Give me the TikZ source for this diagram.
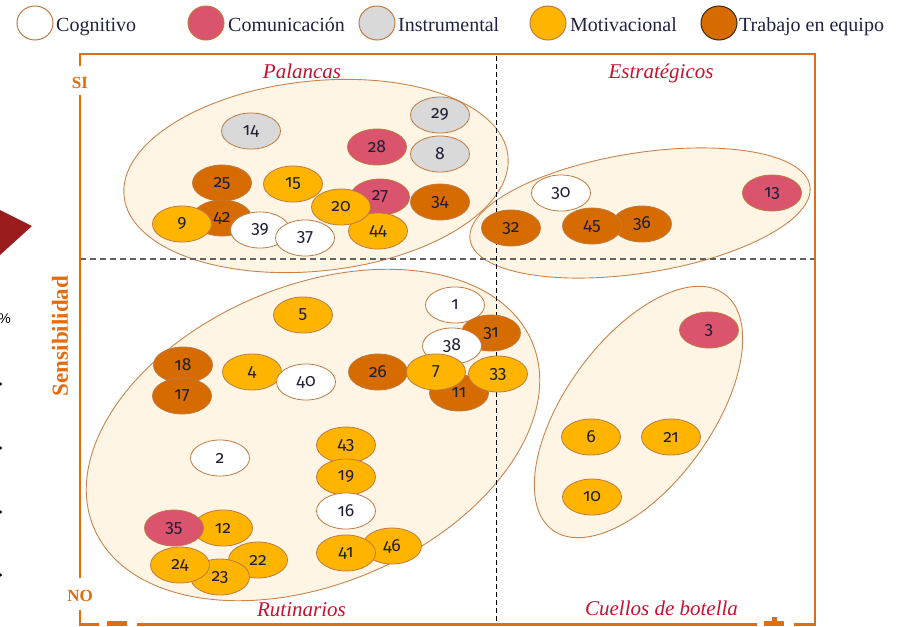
\documentclass[tikz,border=0pt]{standalone}
\usepackage{fontspec}
\setmainfont{Liberation Serif}
\newfontfamily\numfont[Numbers=OldStyle]{Fira Sans}
\newfontfamily\pctfont{Liberation Sans}
\usetikzlibrary{shapes.geometric}
\definecolor{framecol}{HTML}{E46C0A}
\definecolor{grpfill}{HTML}{FEF5E5}
\definecolor{grpline}{HTML}{C8844C}
\definecolor{itemline}{HTML}{BF7A40}
\definecolor{comcol}{HTML}{D9546C}
\definecolor{inscol}{HTML}{D9D9D9}
\definecolor{motcol}{HTML}{FFB400}
\definecolor{tracol}{HTML}{D66B00}
\definecolor{numtext}{HTML}{1E1E36}
\definecolor{quadred}{HTML}{C8102E}
\definecolor{trired}{HTML}{9B1C1C}
\definecolor{legtext}{HTML}{1F2340}
\tikzset{
  grp/.style={draw=grpline, fill=grpfill, line width=0.9pt},
  item/.style={ellipse, draw=itemline, line width=0.8pt, minimum width=59pt,
    minimum height=36pt, inner sep=0pt, text=numtext,
    font=\numfont\fontsize{17.5}{17.5}\selectfont},
  cog/.style={item, fill=white},
  com/.style={item, fill=comcol},
  ins/.style={item, fill=inscol},
  mot/.style={item, fill=motcol},
  tra/.style={item, fill=tracol},
  lgc/.style={ellipse, draw=itemline, line width=1pt, minimum width=36pt,
    minimum height=34pt, inner sep=0pt},
  lgt/.style={anchor=base west, inner sep=0pt, text=legtext,
    font=\fontsize{20}{20}\selectfont},
  quad/.style={anchor=base, inner sep=0pt, text=quadred,
    font=\itshape\fontsize{21}{21}\selectfont},
  axlab/.style={anchor=base, inner sep=0pt, text=framecol,
    font=\bfseries\fontsize{17}{17}\selectfont},
  frame/.style={draw=framecol, line width=2.5pt},
  hdash/.style={draw=black!62, line width=1.4pt, dash pattern=on 6pt off 4pt},
  vdash/.style={draw=black, line width=1pt, dash pattern=on 5pt off 3pt},
}
\begin{document}
\begin{tikzpicture}[x=1pt,y=-1pt]
\useasboundingbox (0,0) rectangle (903,627);

% cut-off remnants at the left edge
\fill[trired] (0,210) -- (32,226) -- (0,255) -- cycle;
\node[anchor=east, inner sep=0pt, font=\pctfont\fontsize{14}{14}\selectfont] (pct) at (11,319) {\%};
\foreach \yy in {384,448,512,575} \fill (0.5,\yy) circle (1.6);

% legend
\node[lgc, fill=white] (lc1) at (35,23) {};
\node[lgt] (lt1) at (56,31.5) {Cognitivo};
\node[lgc, fill=comcol] (lc2) at (206,23) {};
\node[lgt] (lt2) at (228,31.5) {Comunicación};
\node[lgc, fill=inscol] (lc3) at (377,23) {};
\node[lgt] (lt3) at (398,31.5) {Instrumental};
\node[lgc, fill=motcol] (lc4) at (548,23) {};
\node[lgt] (lt4) at (570,31.5) {Motivacional};
\node[lgc, fill=tracol, draw=black!70!brown] (lc5) at (719,23) {};
\node[lgt] (lt5) at (739,31.5) {Trabajo en equipo};

% group ellipses
\draw[grp, rotate around={6:(316,176)}] (316,176) ellipse [x radius=193, y radius=95];
\draw[grp, rotate around={9:(640,213)}] (640,213) ellipse [x radius=172, y radius=60];
\draw[grp, rotate around={23:(313,435)}] (313,435) ellipse [x radius=238, y radius=149];
\draw[grp, rotate around={54:(638.5,412)}] (638.5,412) ellipse [x radius=146, y radius=73];

% quadrant dividers
\draw[hdash] (80,259) -- (815,259);
\draw[vdash] (496,56) -- (496,622);

% frame
\draw[frame] (80,66) -- (80,54) -- (815,54) -- (815,624.5) -- (794,624.5);
\draw[frame] (757,624.5) -- (137,624.5);
\draw[frame] (99,624.5) -- (80,624.5) -- (80,610);
\draw[frame] (80,578) -- (80,95);
\fill[framecol] (107,620.5) rectangle (127,625.5);
\fill[framecol] (764,621) rectangle (784,625.5);
\fill[framecol] (771.5,617) rectangle (776.5,625.5);

% axis labels
\node[axlab] (si) at (80,88) {SI};
\node[axlab] (no) at (80,601) {NO};
\node[inner sep=0pt, text=framecol, rotate=90, font=\bfseries\fontsize{23}{23}\selectfont] (sens) at (60,336) {Sensibilidad};

% quadrant titles
\node[quad] (qpal) at (302,78) {Palancas};
\node[quad] (qest) at (661,78) {Estratégicos};
\node[quad] (qrut) at (301.5,616) {Rutinarios};
\node[quad] (qcue) at (661.5,615) {Cuellos de botella};

% Palancas
\node[ins] (n14) at (251,131) {14};
\node[ins] (n29) at (440,115) {29};
\node[com] (n28) at (377,147) {28};
\node[ins] (n8) at (440,154) {8};
\node[mot] (n15) at (293,184) {15};
\node[tra] (n34) at (440,202) {34};
\node[tra] (n25) at (222,183) {25};
\node[tra] (n42) at (222,218) {42};
\node[mot] (n9) at (182,224) {9};
\node[cog] (n39) at (260,230) {39};
\node[cog] (n37) at (305,238) {37};
\node[com] (n27) at (380,197) {27};
\node[mot] (n44) at (378,231) {44};
\node[mot] (n20) at (341,207) {20};

% Estrategicos
\node[tra] (n32) at (511,228) {32};
\node[cog] (n30) at (561,193) {30};
\node[tra] (n36) at (642,224) {36};
\node[tra] (n45) at (592,226) {45};
\node[com] (n13) at (772,193) {13};

% Cuellos de botella
\node[com] (n3) at (709,330) {3};
\node[mot] (n6) at (591,437) {6};
\node[mot] (n21) at (671,437) {21};
\node[mot] (n10) at (592,497) {10};

% Rutinarios
\node[mot] (n5) at (303,315) {5};
\node[cog] (n1) at (455,305) {1};
\node[tra] (n31) at (491,333) {31};
\node[tra] (n11) at (459,393) {11};
\node[cog] (n38) at (452,346) {38};
\node[tra] (n26) at (378,372) {26};
\node[mot] (n33) at (498,374) {33};
\node[mot] (n7) at (436,372) {7};
\node[tra] (n18) at (183,365) {18};
\node[tra] (n17) at (182,396) {17};
\node[mot] (n4) at (252,372) {4};
\node[cog] (n40) at (306,382) {40};
\node[mot] (n43) at (346,445) {43};
\node[mot] (n19) at (346,477) {19};
\node[cog] (n16) at (346,511) {16};
\node[cog] (n2) at (220,458) {2};
\node[mot] (n12) at (223,528) {12};
\node[com] (n35) at (174,528) {35};
\node[mot] (n46) at (392,546) {46};
\node[mot] (n41) at (346,553) {41};
\node[mot] (n22) at (258,560) {22};
\node[mot] (n23) at (220,577) {23};
\node[mot] (n24) at (180,565) {24};
\end{tikzpicture}
\end{document}
